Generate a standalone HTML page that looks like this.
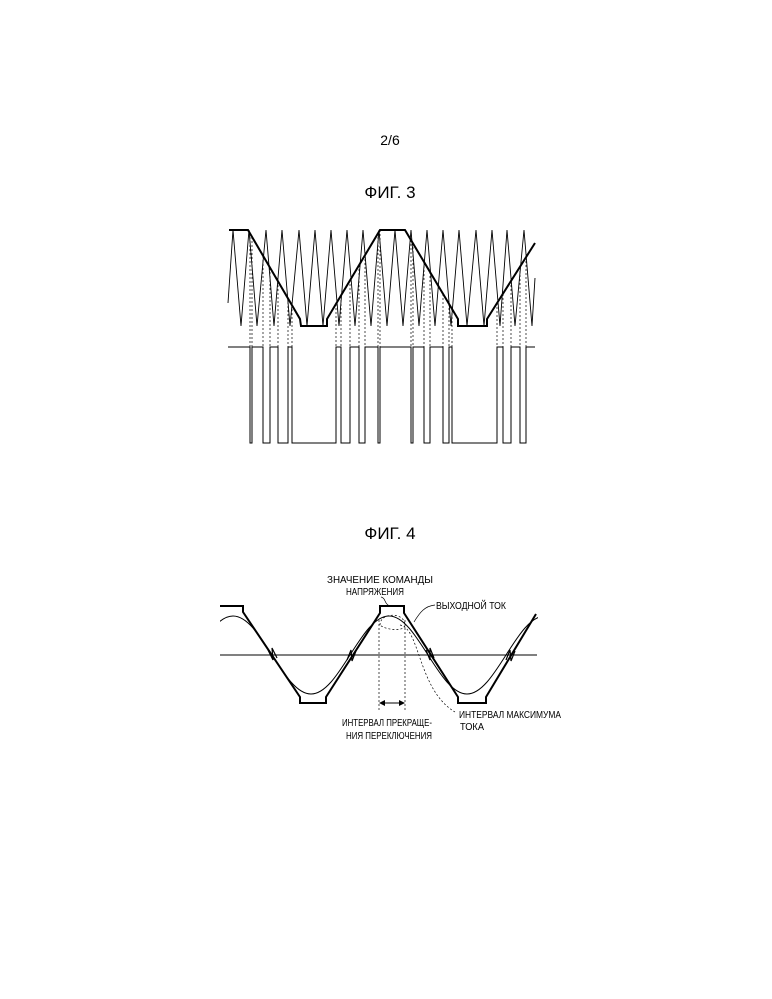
<!DOCTYPE html>
<html><head><meta charset="utf-8"><style>
html,body{margin:0;padding:0;background:#fff;}
svg{display:block;}
text{font-family:"Liberation Sans",sans-serif;fill:#000;}
</style></head><body>
<svg width="772" height="999" viewBox="0 0 772 999" xmlns="http://www.w3.org/2000/svg">
<text x="390" y="145" font-size="14" text-anchor="middle">2/6</text>
<text x="390" y="198" font-size="17" text-anchor="middle">ФИГ. 3</text>
<text x="390" y="539" font-size="17" text-anchor="middle">ФИГ. 4</text>

<!-- FIG 3 carrier -->
<polyline fill="none" stroke="#000" stroke-width="0.9" points="228,303 233,230 241,326 249,230 257,326 266,230 274,326 282,230 290,326 299,230 307,326 315,230 323,326 331,230 339,326 347,230 355,326 363,230 371,326 379,230 387,326 395,230 403,326 411,230 419,326 427,230 435,326 443,230 451,326 459,230 467,326 476,230 484,326 492,230 500,326 507,230 515,326 524,230 532,326 535,278"/>
<!-- modulating wave -->
<polyline fill="none" stroke="#000" stroke-width="2" points="229,230 248,230 300,319 301,326 327,326 327,319 380,230 405,230 458,319 458,326 487,326 487,319 535,243"/>
<!-- dashed verticals -->
<g stroke="#000" stroke-width="0.7" stroke-dasharray="2,2">
<line x1="250" y1="233" x2="250" y2="347"/><line x1="252" y1="237" x2="252" y2="347"/>
<line x1="263" y1="256" x2="263" y2="347"/><line x1="270" y1="268" x2="270" y2="347"/>
<line x1="278" y1="281" x2="278" y2="347"/><line x1="288" y1="298" x2="288" y2="347"/>
<line x1="292" y1="305" x2="292" y2="347"/><line x1="336" y1="304" x2="336" y2="347"/>
<line x1="341" y1="296" x2="341" y2="347"/><line x1="350" y1="280" x2="350" y2="347"/>
<line x1="359" y1="265" x2="359" y2="347"/><line x1="365" y1="255" x2="365" y2="347"/>
<line x1="378" y1="233" x2="378" y2="347"/><line x1="380" y1="230" x2="380" y2="347"/>
<line x1="411" y1="240" x2="411" y2="347"/><line x1="413" y1="243" x2="413" y2="347"/>
<line x1="424" y1="262" x2="424" y2="347"/><line x1="430" y1="272" x2="430" y2="347"/>
<line x1="443" y1="294" x2="443" y2="347"/><line x1="449" y1="304" x2="449" y2="347"/>
<line x1="452" y1="309" x2="452" y2="347"/><line x1="497" y1="303" x2="497" y2="347"/>
<line x1="503" y1="294" x2="503" y2="347"/><line x1="511" y1="281" x2="511" y2="347"/>
<line x1="520" y1="267" x2="520" y2="347"/><line x1="526" y1="257" x2="526" y2="347"/>
</g>
<!-- pulses -->
<polyline fill="none" stroke="#000" stroke-width="1" points="228,347 250,347 250,443 252,443 252,347 263,347 263,443 270,443 270,347 278,347 278,443 288,443 288,347 292,347 292,443 336,443 336,347 341,347 341,443 350,443 350,347 359,347 359,443 365,443 365,347 378,347 378,443 380,443 380,347 411,347 411,443 413,443 413,347 424,347 424,443 430,443 430,347 443,347 443,443 449,443 449,347 452,347 452,443 497,443 497,347 503,347 503,443 511,443 511,347 520,347 520,443 526,443 526,347 535,347"/>

<!-- FIG 4 -->
<line x1="220" y1="655" x2="537" y2="655" stroke="#000" stroke-width="1"/>
<defs><clipPath id="c"><rect x="220" y="590" width="318" height="130"/></clipPath></defs>
<path clip-path="url(#c)" fill="none" stroke="#000" stroke-width="1" d="M194,655 C206.7,635 218.9,616 233,616 C247.1,616 259.3,635 272,655 C284.7,675 296.9,694 311,694 C325.1,694 337.3,675 350,655 C362.7,635 374.9,616 389,616 C403.1,616 415.3,635 428,655 C440.7,675 452.9,694 467,694 C481.1,694 493.3,675 506,655 C518.7,635 530.9,616 545,616"/>
<polyline fill="none" stroke="#000" stroke-width="2" points="220,606 243,606 243,612 300,697 300,703 326,703 326,697 380,613 380,606 404,606 404,613 458,697 458,703 486,703 486,697 536,614"/>
<!-- zigzags -->
<g fill="none" stroke="#000" stroke-width="1.2">
<polyline points="268,650 273,660 272,648 277,658"/>
<polyline points="347,660 351,650 352,661 356,651"/>
<polyline points="426,650 430,660 430,648 434,658"/>
<polyline points="506,660 510,650 511,661 515,651"/>
</g>
<!-- dashed -->
<g fill="none" stroke="#000" stroke-width="0.7" stroke-dasharray="2,2">
<path d="M380,625 C380,612 405,612 405,625 C405,632 385,630 380,625"/>
<path d="M400,625 C420,628 418,690 455,712"/>
<line x1="379" y1="620" x2="379" y2="710"/>
<line x1="405" y1="620" x2="405" y2="710"/>
</g>
<line x1="381" y1="703" x2="403" y2="703" stroke="#000" stroke-width="1"/>
<polygon points="379,703 385,700 385,706" fill="#000"/>
<polygon points="405,703 399,700 399,706" fill="#000"/>
<path d="M381,597 C386,598 384,604 390,606" fill="none" stroke="#000" stroke-width="0.7"/>
<path d="M435,605 C425,606 420,612 414,622" fill="none" stroke="#000" stroke-width="0.7"/>
<g font-size="10.5">
<text x="327" y="583" textLength="106" lengthAdjust="spacingAndGlyphs">ЗНАЧЕНИЕ КОМАНДЫ</text>
<text x="346" y="595" textLength="58" lengthAdjust="spacingAndGlyphs">НАПРЯЖЕНИЯ</text>
<text x="436" y="609" textLength="70" lengthAdjust="spacingAndGlyphs">ВЫХОДНОЙ ТОК</text>
<text x="459" y="718" textLength="102" lengthAdjust="spacingAndGlyphs">ИНТЕРВАЛ МАКСИМУМА</text>
<text x="460" y="730" textLength="24" lengthAdjust="spacingAndGlyphs">ТОКА</text>
<text x="342" y="726" textLength="90" lengthAdjust="spacingAndGlyphs">ИНТЕРВАЛ ПРЕКРАЩЕ-</text>
<text x="346" y="739" textLength="86" lengthAdjust="spacingAndGlyphs">НИЯ ПЕРЕКЛЮЧЕНИЯ</text>
</g>
</svg>
</body></html>
